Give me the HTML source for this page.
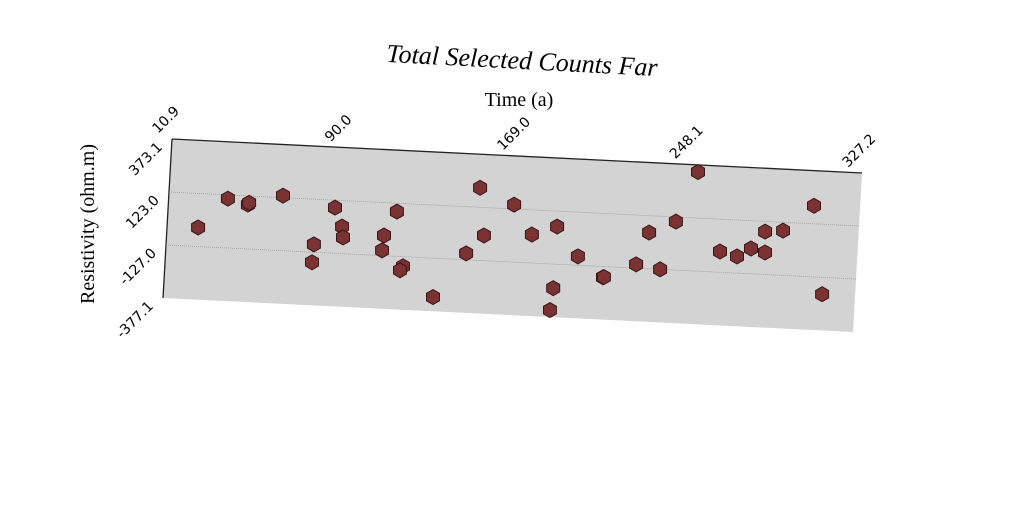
<!DOCTYPE html>
<html><head><meta charset="utf-8"><style>
html,body{margin:0;padding:0;background:#fff;width:1024px;height:512px;overflow:hidden}
</style></head><body>
<svg id="chart" width="1024" height="512" xmlns="http://www.w3.org/2000/svg">
<text x="522" y="69" text-anchor="middle" font-family="Liberation Serif, serif" font-style="italic" font-size="26" transform="rotate(3 522 62)" fill="#000">Total Selected Counts Far</text>
<text x="519" y="106" text-anchor="middle" font-family="Liberation Serif, serif" font-size="20" fill="#000">Time (a)</text>
<text x="0" y="0" text-anchor="middle" font-family="Liberation Serif, serif" font-size="20" transform="translate(94 224) rotate(-90)" fill="#000">Resistivity (ohm.m)</text>
<g id="plot"></g>
</svg>
<script>
const xVals=[25.1,38.0,47.3,47.8,63.1,78.5,78.1,87.2,90.9,91.6,110.3,109.8,115.6,119.8,118.5,134.3,148.3,153.0,156.0,169.0,177.9,189.2,189.0,188.1,199.5,211.5,211.9,226.3,231.4,237.4,243.4,252.2,264.3,272.2,278.4,284.4,284.9,292.6,306.1,312.1];
const yVals=[-37.1,105.4,82.0,91.0,132.1,-89.8,-174.5,88.0,0.8,-50.4,-31.6,-102.2,83.6,-172.2,-191.6,-310.2,-96.9,215.0,-8.6,143.3,7.2,50.3,-240.5,-344.1,-85.1,-177.5,-176.5,-109.1,43.5,-127.0,101.1,340.0,-29.0,-48.5,-7.8,74.9,-23.3,83.7,207.8,-206.6];
const xTicks=[10.9,90.0,169.0,248.1,327.2];
const yTicks=[373.1,123.0,-127.0,-377.1];
const xMin=10.9,xMax=327.2,yMin=-377.1,yMax=373.1;
const NS='http://www.w3.org/2000/svg';
const O=[172,139],UX=[690,34],VY=[-9,159];
function P(x,y){const u=(x-xMin)/(xMax-xMin),v=(yMax-y)/(yMax-yMin);return [O[0]+UX[0]*u+VY[0]*v,O[1]+UX[1]*u+VY[1]*v];}
const g=document.getElementById('plot');
function mk(t,a){const e=document.createElementNS(NS,t);for(const k in a)e.setAttribute(k,a[k]);g.appendChild(e);return e;}
const c=[P(xMin,yMax),P(xMax,yMax),P(xMax,yMin),P(xMin,yMin)];
const bg=mk('polygon',{points:c.map(p=>p.join(',')).join(' '),fill:'#d3d3d3',stroke:'none'});


const tl=mk('line',{x1:c[0][0],y1:c[0][1],x2:c[1][0],y2:c[1][1],stroke:'#222','stroke-width':1.3});


const ll=mk('line',{x1:c[0][0],y1:c[0][1],x2:c[3][0],y2:c[3][1],stroke:'#222','stroke-width':1.3});


yTicks.forEach((t,i)=>{
  if(i>0&&i<yTicks.length-1){const a=P(xMin,t),b=P(xMax,t);
    const gl=mk('line',{x1:a[0],y1:a[1],x2:b[0],y2:b[1],stroke:'#999','stroke-width':0.8,'stroke-dasharray':'1,1'});
    
    }
  const p=P(xMin,t);
  const x0=p[0]-9,y0=p[1]+9;
  const tx=mk('text',{x:x0,y:y0,'text-anchor':'end','font-family':'DejaVu Sans, sans-serif','font-size':14,transform:`rotate(-45 ${x0} ${y0})`});
  tx.textContent=t.toFixed(1);
  
  
});
xTicks.forEach(t=>{
  const p=P(t,yMax);
  const x0=p[0]-14,y0=p[1]-5;
  const tx=mk('text',{x:x0,y:y0,'text-anchor':'start','font-family':'DejaVu Sans, sans-serif','font-size':14,transform:`rotate(-45 ${x0} ${y0})`});
  tx.textContent=t.toFixed(1);
  
  
});
xVals.forEach((x,i)=>{
  const p=P(x,yVals[i]),r=7.5;let pts=[];
  for(let k=0;k<6;k++){const a=Math.PI/180*(60*k-90);pts.push((p[0]+r*Math.cos(a)).toFixed(1)+','+(p[1]+r*Math.sin(a)).toFixed(1));}
  const h=mk('polygon',{points:pts.join(' '),fill:'#7a3232',stroke:'#3a1616','stroke-width':1});
  
  
});
</script>
</body></html>
